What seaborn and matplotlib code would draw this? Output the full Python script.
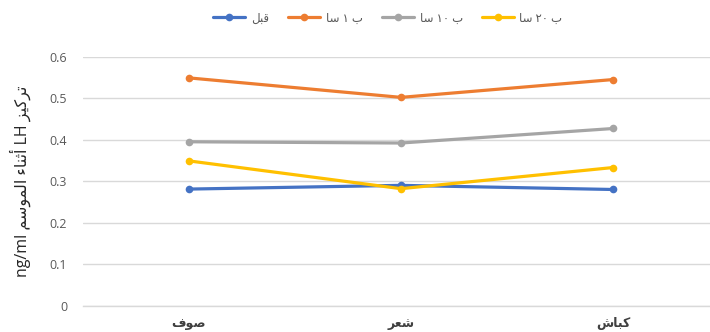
import matplotlib
matplotlib.use("Agg")
import matplotlib.pyplot as plt
import seaborn as sns
import pandas as pd

# --- minimal Arabic shaping for text drawn by matplotlib -------------------
# letter: (isolated, final, initial, medial); two-form letters join only to the right
FORMS = {
    "\u0627": (0xFE8D, 0xFE8E, None, None),  # ا
    "\u0623": (0xFE83, 0xFE84, None, None),  # أ
    "\u0628": (0xFE8F, 0xFE90, 0xFE91, 0xFE92),  # ب
    "\u062A": (0xFE95, 0xFE96, 0xFE97, 0xFE98),  # ت
    "\u062B": (0xFE99, 0xFE9A, 0xFE9B, 0xFE9C),  # ث
    "\u0631": (0xFEAD, 0xFEAE, None, None),  # ر
    "\u0632": (0xFEAF, 0xFEB0, None, None),  # ز
    "\u0633": (0xFEB1, 0xFEB2, 0xFEB3, 0xFEB4),  # س
    "\u0634": (0xFEB5, 0xFEB6, 0xFEB7, 0xFEB8),  # ش
    "\u0635": (0xFEB9, 0xFEBA, 0xFEBB, 0xFEBC),  # ص
    "\u0639": (0xFEC9, 0xFECA, 0xFECB, 0xFECC),  # ع
    "\u0641": (0xFED1, 0xFED2, 0xFED3, 0xFED4),  # ف
    "\u0642": (0xFED5, 0xFED6, 0xFED7, 0xFED8),  # ق
    "\u0643": (0xFED9, 0xFEDA, 0xFEDB, 0xFEDC),  # ك
    "\u0644": (0xFEDD, 0xFEDE, 0xFEDF, 0xFEE0),  # ل
    "\u0645": (0xFEE1, 0xFEE2, 0xFEE3, 0xFEE4),  # م
    "\u0646": (0xFEE5, 0xFEE6, 0xFEE7, 0xFEE8),  # ن
    "\u0648": (0xFEED, 0xFEEE, None, None),  # و
    "\u064A": (0xFEF1, 0xFEF2, 0xFEF3, 0xFEF4),  # ي
    "\u0621": (0xFE80, None, None, None),  # ء
}


def _joins_left(ch):
    f = FORMS.get(ch)
    return f is not None and f[2] is not None


def _joins_right(ch):
    f = FORMS.get(ch)
    return f is not None and f[1] is not None


def shape_word(word):
    out = []
    for i, ch in enumerate(word):
        if ch not in FORMS:
            out.append(ch)
            continue
        prev_ch = word[i - 1] if i > 0 else ""
        next_ch = word[i + 1] if i + 1 < len(word) else ""
        jp = _joins_left(prev_ch) and _joins_right(ch)
        jn = _joins_left(ch) and _joins_right(next_ch)
        iso, fin, ini, med = FORMS[ch]
        if jp and jn:
            code = med
        elif jp:
            code = fin
        elif jn:
            code = ini
        else:
            code = iso
        out.append(chr(code))
    return "".join(out)[::-1]


def rtl(text):
    tokens = text.split(" ")[::-1]
    return " ".join(shape_word(t) if any(c in FORMS for c in t) else t for t in tokens)


# --- data -------------------------------------------------------------------
categories = ["صوف", "شعر", "كباش"]
series_names = ["قبل", "ب ١ سا", "ب ١٠ سا", "ب ٢٠ سا"]
before = [0.281, 0.290, 0.280]
after_1h = [0.549, 0.502, 0.545]
after_10h = [0.395, 0.392, 0.427]
after_20h = [0.349, 0.282, 0.333]
y_ticks = [0, 0.1, 0.2, 0.3, 0.4, 0.5, 0.6]
y_label = "تركيز LH أثناء الموسم ng/ml"

colors = ["#4472C4", "#ED7D31", "#A5A5A5", "#FFC000"]

cat_labels = [rtl(c) for c in categories]
ser_labels = [rtl(s) for s in series_names]
values = [before, after_1h, after_10h, after_20h]

df = pd.DataFrame(
    [(cat_labels[j], ser_labels[i], values[i][j])
     for i in range(len(values)) for j in range(len(categories))],
    columns=["category", "series", "value"],
)

# --- figure -------------------------------------------------------------------
sns.set_style("white")
plt.rcParams["font.family"] = ["Open Sans", "DejaVu Sans"]

fig = plt.figure(figsize=(7.10, 3.32), dpi=100)
ax_left, ax_right = 82.5, 719.5
ax = fig.add_axes([ax_left / 710, 1 - 305.7 / 332, (ax_right - ax_left) / 710, (305.7 - 56.7) / 332])

sns.lineplot(
    data=df, x="category", y="value", hue="series",
    hue_order=ser_labels, palette=colors, sort=False,
    marker="o", markersize=5.5, markeredgewidth=0, linewidth=2.3,
    ax=ax, legend=True,
)

ax.set_xlim(-0.5, 2.5)
ax.set_ylim(0, 0.6)
ax.set_yticks(y_ticks)
ax.set_yticklabels(["0" if t == 0 else f"{t:.1f}" for t in y_ticks])
ax.grid(axis="y", color="#D9D9D9", linewidth=1)
ax.set_axisbelow(True)
for side in ["top", "right", "left"]:
    ax.spines[side].set_visible(False)
ax.spines["bottom"].set_color("#D9D9D9")
ax.spines["bottom"].set_linewidth(1)

ax.tick_params(axis="y", length=0, pad=11, labelsize=9, labelcolor="#595959")
ax.tick_params(axis="x", length=0, pad=8, labelsize=9, labelcolor="#404040")
for lbl in ax.get_xticklabels():
    lbl.set_fontweight("bold")

ax.set_xlabel("")
ax.set_ylabel(rtl(y_label), fontsize=11.5, color="#262626")
ax.yaxis.set_label_coords(-(ax_left - 20) / (ax_right - ax_left), 0.5)
ax.yaxis.label.set_verticalalignment("center")

handles, labels = ax.get_legend_handles_labels()
ax.get_legend().remove()
fig.legend(
    handles, labels, loc="center", ncol=4,
    bbox_to_anchor=(388 / 710, 1 - 18 / 332),
    frameon=False, fontsize=8.5, handlelength=2.7, columnspacing=1.6,
    handletextpad=0.5, labelcolor="#595959",
)

fig.savefig("out.png", dpi=100)
